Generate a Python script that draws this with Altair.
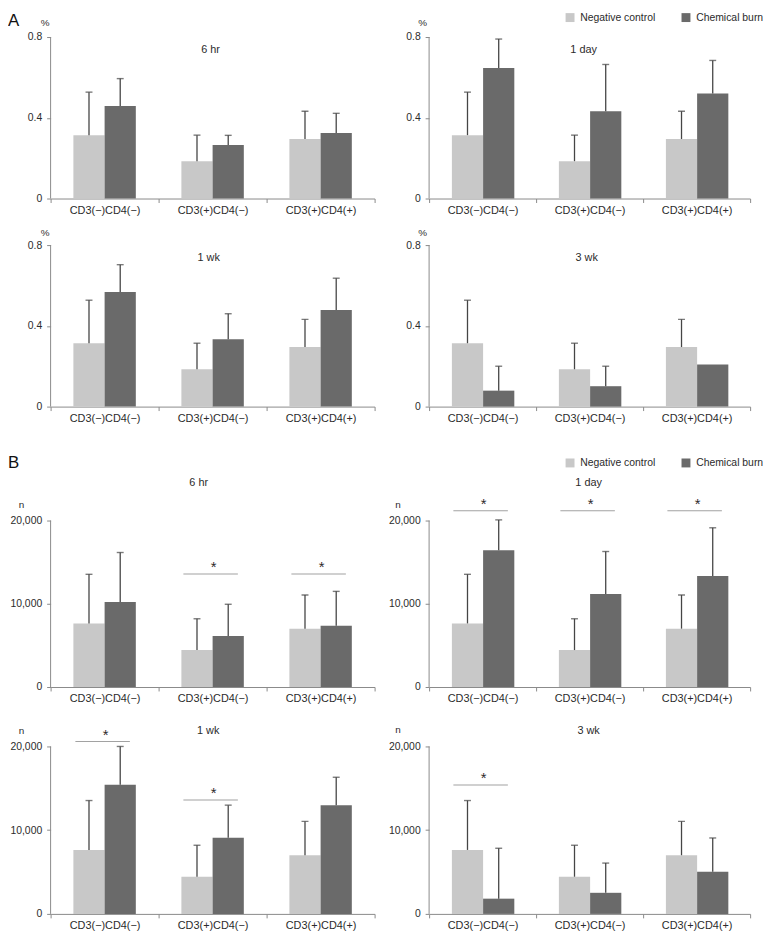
import altair as alt
import pandas as pd

# ---------------- data ----------------
categories = ["CD3(−)CD4(−)", "CD3(+)CD4(−)", "CD3(+)CD4(+)"]
series = ["Negative control", "Chemical burn"]
colors = ["#c8c8c8", "#6a6a6a"]

# Panel A: percentage (%) ; bar means and tops of the error bars
a_neg = [0.314, 0.185, 0.295]
a_neg_top = [0.527, 0.314, 0.432]
a_burn_6hr = [0.458, 0.265, 0.324]
a_burn_6hr_top = [0.594, 0.313, 0.422]
a_burn_1day = [0.646, 0.432, 0.520]
a_burn_1day_top = [0.790, 0.664, 0.684]
a_burn_1wk = [0.568, 0.334, 0.479]
a_burn_1wk_top = [0.703, 0.460, 0.636]
a_burn_3wk = [0.079, 0.101, 0.209]
a_burn_3wk_top = [0.200, 0.200, None]
a_ticks = [0, 0.4, 0.8]

# Panel B: number of cells (n)
b_neg = [7640, 4440, 7010]
b_neg_top = [13540, 8200, 11050]
b_burn_6hr = [10220, 6140, 7370]
b_burn_6hr_top = [16160, 9940, 11490]
b_burn_1day = [16430, 11170, 13350]
b_burn_1day_top = [20080, 16280, 19130]
b_burn_1wk = [15440, 9110, 12990]
b_burn_1wk_top = [20000, 12990, 16320]
b_burn_3wk = [1820, 2520, 5030]
b_burn_3wk_top = [7840, 6070, 9070]
b_ticks = [0, 10000, 20000]

# significance bars (* markers): category index and height (n)
sig_6hr_cats = [1, 2]
sig_6hr_y = [13571, 13571]
sig_1day_cats = [0, 1, 2]
sig_1day_y = [21190, 21190, 21190]
sig_1wk_cats = [0, 1]
sig_1wk_y = [20592, 13609]
sig_3wk_cats = [0]
sig_3wk_y = [15385]

# ---------------- style ----------------
FONT = "Liberation Sans"
TXT = "#2b2b2b"
AX = "#8a8a8a"
ERR = "#454545"
SIG = "#7a7a7a"
LEFT_W, RIGHT_W = 327, 324


def make_panel(time, neg, neg_top, burn, burn_top, width, height, ymax, ticks,
               fmt, unit, utx, uty, title_dx, title_y, sig_cats=None,
               sig_y=None, legend_xy=None, letter=None, letter_xy=None):
    rows = []
    for s, vals, tops in [(series[0], neg, neg_top), (series[1], burn, burn_top)]:
        for c, v, t in zip(categories, vals, tops):
            rows.append({"cat": c, "series": s, "val": v, "top": t})
    df = pd.DataFrame(rows)

    xaxis = alt.Axis(title=None, tickBand="extent", tickSize=4, labelPadding=2,
                     labelAngle=0, labelFontSize=11, labelColor=TXT,
                     domainColor=AX, tickColor=AX, grid=False)
    xenc = alt.X("cat:N", sort=categories,
                 scale=alt.Scale(domain=categories, paddingInner=0, paddingOuter=0),
                 axis=xaxis)
    xoff = alt.XOffset("series:N", sort=series,
                       scale=alt.Scale(domain=series, paddingInner=0, paddingOuter=0.73))
    yscale = alt.Scale(domain=[0, ymax], nice=False, zero=True)
    yaxis = alt.Axis(values=ticks, format=fmt, tickSize=4, labelPadding=5,
                     labelFontSize=10.5, labelColor=TXT, tickColor=AX,
                     domain=False, grid=False, title=unit, titleAngle=0,
                     titleX=utx, titleY=uty, titleAlign="center",
                     titleBaseline="middle", titleFontSize=10,
                     titleFontWeight="normal", titleColor=TXT)

    def Y(field):
        return alt.Y(field, scale=yscale, axis=yaxis)

    if legend_xy is not None:
        legend = alt.Legend(orient="none", legendX=legend_xy[0], legendY=legend_xy[1],
                            direction="horizontal", columns=2, title=None,
                            symbolType="square", symbolSize=81, symbolStrokeWidth=0,
                            labelFontSize=10.5, labelColor=TXT, labelOffset=5,
                            columnPadding=25, padding=0)
    else:
        legend = None

    bars = alt.Chart(df).mark_bar().encode(
        x=xenc, xOffset=xoff, y=Y("val:Q"),
        color=alt.Color("series:N", sort=series,
                        scale=alt.Scale(domain=series, range=colors), legend=legend),
    )
    err = alt.Chart(df).transform_filter("isValid(datum.top)").mark_rule(
        color=ERR, strokeWidth=1.3).encode(
        x=xenc, xOffset=xoff, y=Y("val:Q"), y2="top:Q")
    cap = alt.Chart(df).transform_filter("isValid(datum.top)").mark_tick(
        color=ERR, size=7, thickness=1.4).encode(
        x=xenc, xOffset=xoff, y=Y("top:Q"))

    yline = alt.Chart(pd.DataFrame({"y0": [0], "y1": [ticks[-1]]})).mark_rule(
        color=AX, strokeWidth=1).encode(
        x=alt.value(0), y=Y("y0:Q"), y2="y1:Q")

    ttl = alt.Chart(pd.DataFrame({"t": [time]})).mark_text(
        fontSize=11, color=TXT, baseline="middle", align="center").encode(
        text="t:N", x=alt.value(width / 2 + title_dx), y=alt.value(title_y))

    layers = [bars, err, cap, yline, ttl]

    if sig_cats:
        sdf = pd.DataFrame({"cat": [categories[i] for i in sig_cats], "sy": sig_y})
        sline = alt.Chart(sdf).mark_tick(color=SIG, size=55, thickness=1, xOffset=-2).encode(
            x=xenc, y=Y("sy:Q"))
        star = alt.Chart(sdf).mark_text(text="*", fontSize=15, color=TXT,
                                        baseline="alphabetic", dy=-2, dx=1).encode(
            x=xenc, y=Y("sy:Q"))
        layers += [sline, star]

    if letter:
        let = alt.Chart(pd.DataFrame({"l": [letter]})).mark_text(
            fontSize=17, color="#111", baseline="middle", align="center").encode(
            text="l:N", x=alt.value(letter_xy[0]), y=alt.value(letter_xy[1]))
        layers.append(let)

    return alt.layer(*layers).properties(width=width, height=height)


A1_H, A1_MAX = 188, 0.9227   # top row: room above the 0.8 tick for legend / labels
A_H = 163
B1_H, B1_MAX = 236, 28095
B2_H, B2_MAX = 182, 21538

panels = [
    make_panel("6 hr", a_neg, a_neg_top, a_burn_6hr, a_burn_6hr_top, LEFT_W, A1_H,
               A1_MAX, a_ticks, "~g", "%", -6, 10, -2, 37.7,
               letter="A", letter_xy=(-37.3, 9)),
    make_panel("1 day", a_neg, a_neg_top, a_burn_1day, a_burn_1day_top, RIGHT_W, A1_H,
               A1_MAX, a_ticks, "~g", "%", -7, 10, -6, 38, legend_xy=(137, 0)),
    make_panel("1 wk", a_neg, a_neg_top, a_burn_1wk, a_burn_1wk_top, LEFT_W, A_H,
               0.8, a_ticks, "~g", "%", -6, -13, -4, 13),
    make_panel("3 wk", a_neg, a_neg_top, a_burn_3wk, a_burn_3wk_top, RIGHT_W, A_H,
               0.8, a_ticks, "~g", "%", -7, -13, -3, 13),
    make_panel("6 hr", b_neg, b_neg_top, b_burn_6hr, b_burn_6hr_top, LEFT_W, B1_H,
               B1_MAX, b_ticks, ",d", "n", -30, 52, -14, 30,
               sig_cats=sig_6hr_cats, sig_y=sig_6hr_y,
               letter="B", letter_xy=(-37.3, 10)),
    make_panel("1 day", b_neg, b_neg_top, b_burn_1day, b_burn_1day_top, RIGHT_W, B1_H,
               B1_MAX, b_ticks, ",d", "n", -32, 52, -1, 30,
               sig_cats=sig_1day_cats, sig_y=sig_1day_y, legend_xy=(137, 4.5)),
    make_panel("1 wk", b_neg, b_neg_top, b_burn_1wk, b_burn_1wk_top, LEFT_W, B2_H,
               B2_MAX, b_ticks, ",d", "n", -30, -3.5, -4.5, -3,
               sig_cats=sig_1wk_cats, sig_y=sig_1wk_y),
    make_panel("3 wk", b_neg, b_neg_top, b_burn_3wk, b_burn_3wk_top, RIGHT_W, B2_H,
               B2_MAX, b_ticks, ",d", "n", -32, -4, -1, -3,
               sig_cats=sig_3wk_cats, sig_y=sig_3wk_y),
]

chart = alt.concat(
    *panels, columns=2, bounds="flush", align="each",
    spacing={"row": 47, "column": 55},
).resolve_scale(color="independent").properties(
    padding={"left": 0, "top": 0, "right": 0, "bottom": 0}
).configure(font=FONT).configure_view(stroke=None)

chart.save("out.html", embed_options={"renderer": "svg", "actions": False})
